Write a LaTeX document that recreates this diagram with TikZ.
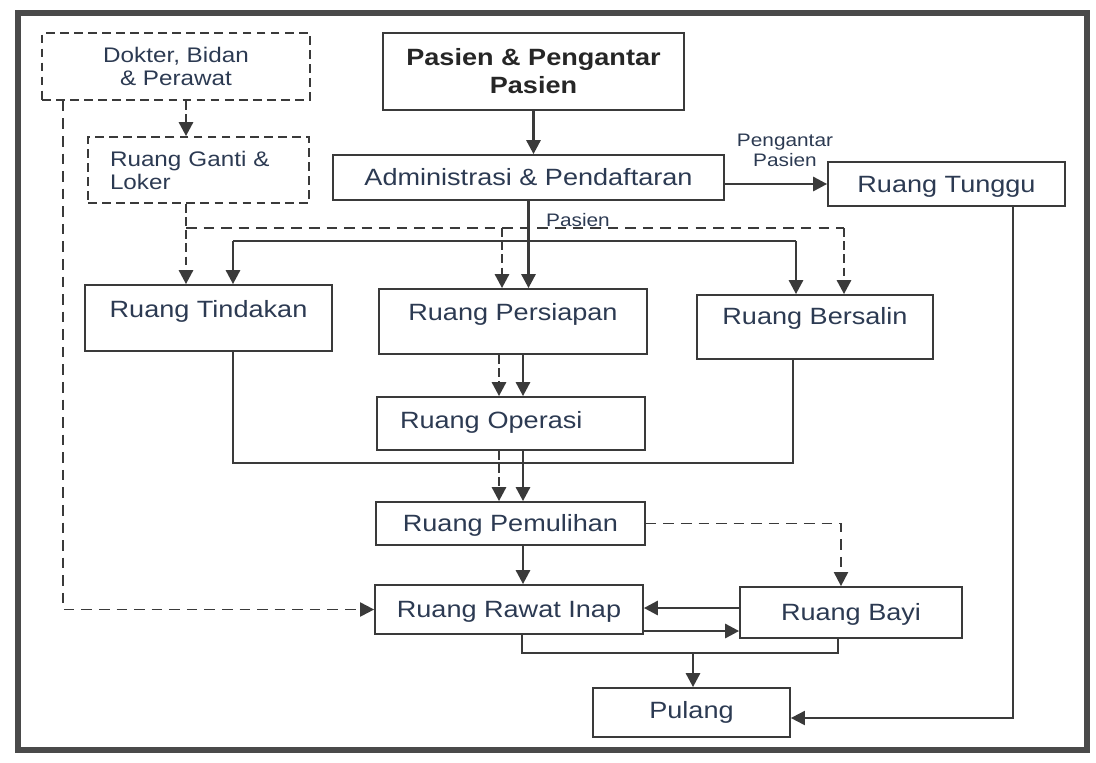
\documentclass[tikz,border=0pt]{standalone}
\usepackage{fontspec}
\setmainfont{Liberation Sans}[FakeStretch=1.15]
\usetikzlibrary{arrows.meta}

\definecolor{inkgray}{HTML}{3A3A3A}
\definecolor{inkblue}{HTML}{2C3A52}
\definecolor{framegray}{HTML}{4A4A4A}

\begin{document}
\begin{tikzpicture}[x=0.02cm, y=-0.02cm, draw=inkgray, every node/.style={text=inkblue}]
    \tikzstyle{box}=[rectangle, draw=inkgray, line width=1pt, inner sep=0pt]
    \tikzstyle{room}=[box, font=\fontsize{13.4}{15}\selectfont, text height=9.6pt, text depth=0pt]
    \tikzstyle{staff}=[box, dash pattern=on 5pt off 3pt, font=\fontsize{12}{13.1}\selectfont]
    \tikzstyle{start}=[box, font=\fontsize{13.4}{15.9}\selectfont\bfseries, align=center, text=black!85]
    \tikzstyle{note}=[inner sep=0pt, font=\fontsize{10.3}{11.5}\selectfont, align=center]
    \tikzstyle{tip}=[-{Triangle[length=8pt, width=8pt]}]
    \tikzstyle{link}=[draw=inkgray, line width=1.1pt]
    \tikzstyle{linkd}=[link, dash pattern=on 6pt off 4pt]
    \tikzstyle{flow}=[link, tip, line width=1.6pt]
    \tikzstyle{flowd}=[flow, line width=1.6pt, dash pattern=on 5pt off 2.5pt]

    \useasboundingbox (0,0) rectangle (1096,762);
    \draw[framegray, line width=3pt] (18,13) rectangle (1087,750);

    % Staff side
    \node[staff, minimum width=5.36cm, minimum height=1.34cm, align=center] (dokter) at (176,66.5) {Dokter, Bidan\\\& Perawat};
    \node[staff, minimum width=4.42cm, minimum height=1.32cm, text width=3.54cm, align=left] (ganti) at (198.5,170) {Ruang Ganti \&\\Loker};

    % Patient side
    \node[start, minimum width=6.02cm, minimum height=1.54cm] (pasien) at (533.5,71.5) {Pasien \& Pengantar\\Pasien};
    \node[room, minimum width=7.82cm, minimum height=0.9cm] (admin) at (528.5,177.5) {Administrasi \& Pendaftaran};
    \node[room, minimum width=4.74cm, minimum height=0.88cm] (tunggu) at (946.5,184) {Ruang Tunggu};

    % Rooms
    \node[room, minimum width=4.94cm, minimum height=1.32cm, text depth=0.34cm] (tindakan) at (208.5,318) {Ruang Tindakan};
    \node[room, minimum width=5.36cm, minimum height=1.3cm, text depth=0.38cm] (persiapan) at (513,321.5) {Ruang Persiapan};
    \node[room, minimum width=4.72cm, minimum height=1.28cm, text depth=0.44cm] (bersalin) at (815,327) {Ruang Bersalin};
    \node[room, minimum width=5.36cm, minimum height=1.06cm, text depth=0.14cm, text width=4.44cm, align=left] (operasi) at (511,423.5) {Ruang Operasi};
    \node[room, minimum width=5.38cm, minimum height=0.86cm] (pemulihan) at (510.5,523.5) {Ruang Pemulihan};
    \node[room, minimum width=5.36cm, minimum height=0.98cm] (rawat) at (509,609.5) {Ruang Rawat Inap};
    \node[room, minimum width=4.44cm, minimum height=1.02cm] (bayi) at (851,612.5) {Ruang Bayi};
    \node[room, minimum width=3.94cm, minimum height=0.98cm, text depth=0.1cm] (pulang) at (691.5,712.5) {Pulang};

    % Labels
    \node[note] (lblpengantar) at (785,150) {Pengantar\\Pasien};
    \node[note] (lblpasien) at (578,220) {Pasien};

    % Bends and junctions
    \coordinate (dleft) at (63,0);
    \coordinate (dmid) at (186,0);
    \coordinate (dbusL) at (186,228);
    \coordinate (dbusM) at (502,228);
    \coordinate (dbusR) at (844,228);
    \coordinate (pbusL) at (233,241);
    \coordinate (pbusR) at (796,241);
    \coordinate (loopL) at (233,463);
    \coordinate (loopR) at (793,463);
    \coordinate (cd) at (499,0);
    \coordinate (cs) at (523,0);
    \coordinate (bdrop) at (841,0);
    \coordinate (swapA) at (0,608);
    \coordinate (swapB) at (0,631);
    \coordinate (joinL) at (522,653);
    \coordinate (joinR) at (838,653);
    \coordinate (joinM) at (693,653);
    \coordinate (tdrop) at (1013,718);

    % Patient flow
    \draw[flow] (pasien.south) -- (pasien.south |- admin.north);
    \draw[flow] (tunggu.west -| admin.east) -- (tunggu.west);
    \draw[flow] (admin.south) -- (admin.south |- persiapan.north);
    \draw[link] (pbusL) -- (pbusR);
    \draw[flow] (pbusL) -- (pbusL |- tindakan.north);
    \draw[flow] (pbusR) -- (pbusR |- bersalin.north);

    % Staff flow
    \draw[flowd] (dokter.south -| dmid) -- (ganti.north -| dmid);
    \draw[flowd] (ganti.south -| dbusL) -- (tindakan.north -| dbusL);
    \draw[linkd] (dbusL) -- (dbusR);
    \draw[flowd] (dbusM) -- (dbusM |- persiapan.north);
    \draw[flowd] (dbusR) -- (dbusR |- bersalin.north);
    \draw[linkd, tip] (dokter.south -| dleft) |- (rawat.west);

    % Operation chain
    \foreach \a/\b in {persiapan/operasi, operasi/pemulihan} {
        \draw[flowd] (\a.south -| cd) -- (\b.north -| cd);
        \draw[flow] (\a.south -| cs) -- (\b.north -| cs);
    }
    \draw[link] (tindakan.south -| loopL) -- (loopL) -- (loopR) -- (loopR |- bersalin.south);

    % Recovery and discharge
    \draw[flow] (pemulihan.south -| cs) -- (rawat.north -| cs);
    \draw[linkd, tip] (pemulihan.east) -| (bdrop |- bayi.north);
    \draw[flow] (bayi.west |- swapA) -- (rawat.east |- swapA);
    \draw[flow] (rawat.east |- swapB) -- (bayi.west |- swapB);
    \draw[link] (rawat.south -| joinL) -- (joinL) -- (joinR) -- (joinR |- bayi.south);
    \draw[flow] (joinM) -- (joinM |- pulang.north);
    \draw[link, tip] (tunggu.south -| tdrop) -- (tdrop) -- (pulang.east |- tdrop);
\end{tikzpicture}
\end{document}
